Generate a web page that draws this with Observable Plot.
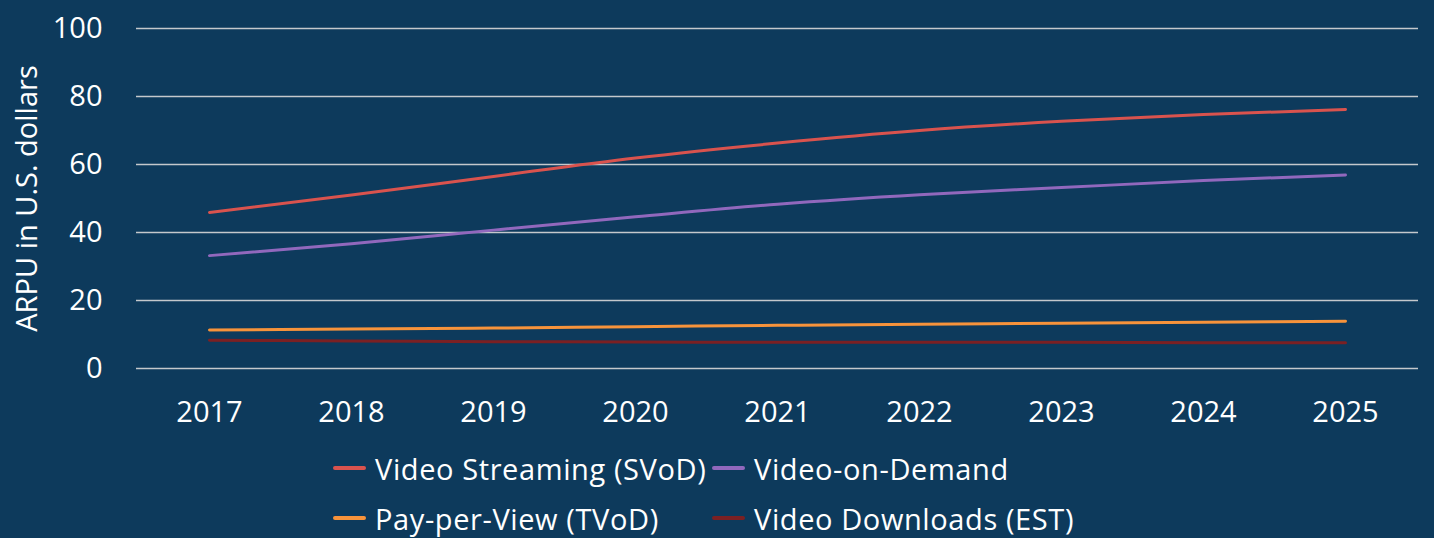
<!DOCTYPE html>
<html>
<head>
<meta charset="utf-8">
<script src="https://cdn.jsdelivr.net/npm/d3@7"></script>
<script src="https://cdn.jsdelivr.net/npm/@observablehq/plot@0.6"></script>
<style>
  html, body { margin: 0; padding: 0; background: #0d3a5c; }
  body { width: 1434px; height: 538px; overflow: hidden; font-family: "Open Sans", Lato, sans-serif; color: #fff; }
  #chart svg { display: block; }
  #legend { position: relative; width: 1434px; height: 98px; }
  .item { position: absolute; display: flex; align-items: center; font-size: 29px; letter-spacing: 0.6px; white-space: nowrap; line-height: 29px; height: 29px; }
  .sw { width: 33px; height: 4px; margin-right: 9px; border-radius: 2px; }
</style>
</head>
<body>
<div id="chart"></div>
<div id="legend"></div>
<script>
const years = ["2017","2018","2019","2020","2021","2022","2023","2024","2025"];
const seriesNames = ["Video Streaming (SVoD)", "Video-on-Demand", "Pay-per-View (TVoD)", "Video Downloads (EST)"];
const svod = [45.9, 51.0, 56.5, 61.9, 66.3, 70.0, 72.7, 74.7, 76.2];
const vod  = [33.2, 36.7, 40.7, 44.6, 48.3, 51.1, 53.2, 55.3, 56.9];
const tvod = [11.3, 11.6, 11.9, 12.3, 12.7, 13.0, 13.3, 13.6, 13.9];
const est  = [8.3, 8.1, 7.9, 7.8, 7.7, 7.7, 7.7, 7.6, 7.6];
const colors = ["#d9534e", "#9168bd", "#f7933b", "#7b2023"];
const yTicks = [0, 20, 40, 60, 80, 100];

const allValues = [svod, vod, tvod, est];
const data = [];
seriesNames.forEach((s, i) => years.forEach((y, j) => data.push({series: s, year: y, value: allValues[i][j]})));

const chart = Plot.plot({
  width: 1434,
  height: 440,
  marginLeft: 136,
  marginRight: 16,
  marginTop: 28,
  marginBottom: 72,
  style: {background: "#0d3a5c", color: "#ffffff", fontFamily: "'Open Sans', Lato, sans-serif", fontSize: "29px"},
  x: {type: "point", domain: years, padding: 0.5, label: null, tickSize: 0, tickPadding: 33},
  y: {domain: [0, 100], ticks: yTicks, label: "ARPU in U.S. dollars", labelAnchor: "center", labelArrow: "none", labelOffset: 120, tickSize: 0, tickPadding: 34},
  color: {domain: seriesNames, range: colors},
  marks: [
    Plot.ruleY(yTicks, {stroke: "#c4c8cc", strokeWidth: 1.3, strokeOpacity: 1}),
    Plot.line(data, {x: "year", y: "value", z: "series", stroke: "series", strokeWidth: 3, curve: "monotone-x"})
  ]
});
chart.querySelectorAll("text").forEach(t => t.setAttribute("fill", "#ffffff"));
document.getElementById("chart").appendChild(chart);

const pos = [[333, 28], [712, 28], [333, 78], [712, 78]];
const legend = document.getElementById("legend");
seriesNames.forEach((s, i) => {
  const d = document.createElement("div");
  d.className = "item";
  d.style.left = pos[i][0] + "px";
  d.style.top = (pos[i][1] - 14.5) + "px";
  const sw = document.createElement("span");
  sw.className = "sw";
  sw.style.background = colors[i];
  d.appendChild(sw);
  d.appendChild(document.createTextNode(s));
  legend.appendChild(d);
});
</script>
</body>
</html>
